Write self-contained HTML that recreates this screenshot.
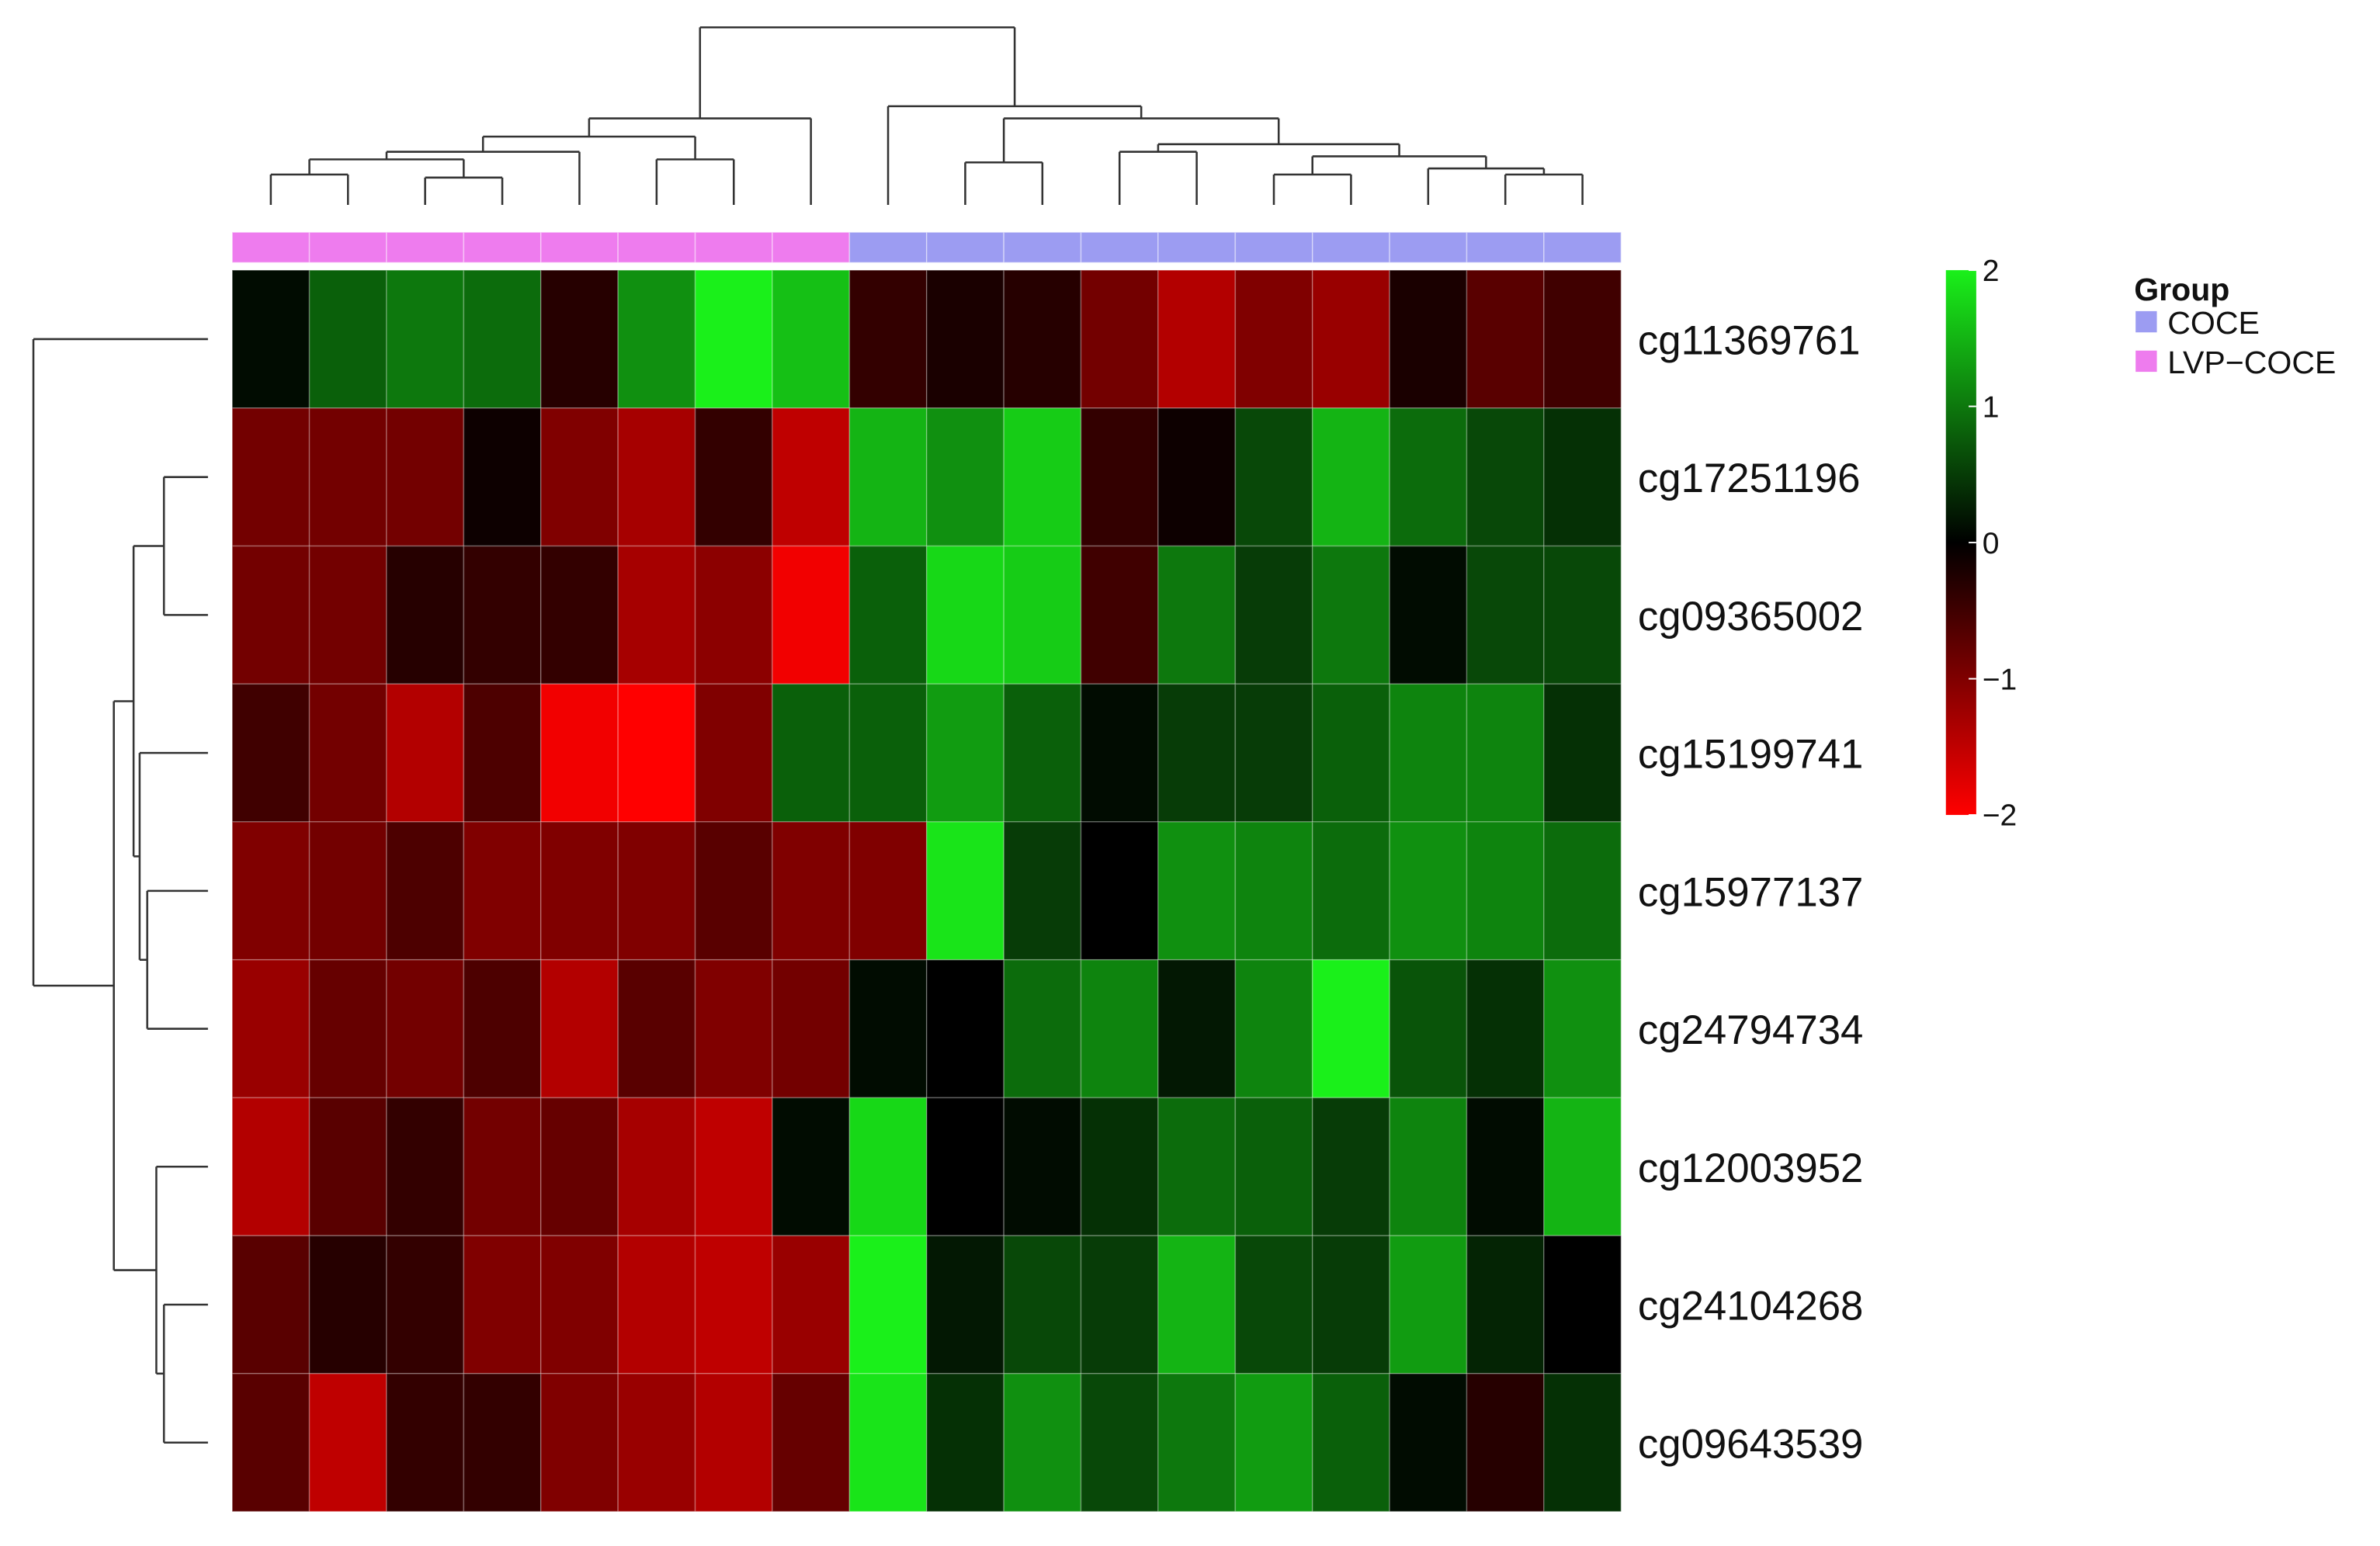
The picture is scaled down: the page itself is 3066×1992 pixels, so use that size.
<!DOCTYPE html>
<html><head><meta charset="utf-8"><style>
html,body{margin:0;padding:0;background:#fff;}
svg{display:block;font-family:"Liberation Sans",sans-serif;}
</style></head><body>
<svg id="chart" width="3066" height="1992" viewBox="0 0 1568 1018.7" xmlns="http://www.w3.org/2000/svg">
<g id="dendro" fill="none" stroke="#333" stroke-width="1.3"></g>
<g id="annot"></g>
<g id="cells"></g>
<g id="rowlabels" font-size="27" fill="#111"></g>
<g id="cbar"></g>
<g font-size="21" fill="#111">
<text x="1406" y="198" font-weight="bold">Group</text>
<rect x="1407" y="205" width="14" height="14" fill="#9c9cf2"/>
<text x="1428" y="220">COCE</text>
<rect x="1407" y="231" width="14" height="14" fill="#ee7cee"/>
<text x="1428" y="246">LVP−COCE</text>
</g>
</svg>
<script>
const rowNames=["cg11369761","cg17251196","cg09365002","cg15199741","cg15977137","cg24794734","cg12003952","cg24104268","cg09643539"];
const groups=["LVP","LVP","LVP","LVP","LVP","LVP","LVP","LVP","COCE","COCE","COCE","COCE","COCE","COCE","COCE","COCE","COCE","COCE"];
const r0=[0.1,0.8,1.0,0.9,-0.3,1.2,2.0,1.6,-0.4,-0.2,-0.3,-0.9,-1.4,-1.0,-1.2,-0.2,-0.7,-0.5];
const r1=[-0.9,-0.9,-0.9,-0.1,-1.0,-1.3,-0.4,-1.5,1.5,1.2,1.7,-0.4,-0.1,0.6,1.5,0.9,0.6,0.4];
const r2=[-0.9,-0.9,-0.3,-0.4,-0.4,-1.3,-1.1,-1.9,0.8,1.8,1.7,-0.5,1.0,0.5,1.0,0.1,0.6,0.6];
const r3=[-0.5,-0.9,-1.4,-0.6,-1.9,-2.0,-1.0,0.8,0.8,1.3,0.8,0.1,0.5,0.5,0.8,1.1,1.1,0.4];
const r4=[-1.0,-0.9,-0.6,-1.0,-1.0,-1.0,-0.7,-1.0,-1.0,1.9,0.5,0.0,1.2,1.1,0.9,1.2,1.1,0.9];
const r5=[-1.2,-0.8,-0.9,-0.6,-1.4,-0.7,-1.0,-0.9,0.1,0.0,0.9,1.1,0.2,1.1,2.0,0.7,0.4,1.2];
const r6=[-1.4,-0.7,-0.4,-0.9,-0.8,-1.3,-1.5,0.1,1.8,0.0,0.1,0.4,0.9,0.8,0.5,1.1,0.1,1.5];
const r7=[-0.7,-0.3,-0.4,-1.0,-1.0,-1.4,-1.5,-1.2,2.0,0.2,0.6,0.5,1.5,0.6,0.5,1.3,0.3,0.0];
const r8=[-0.7,-1.5,-0.4,-0.4,-1.0,-1.2,-1.4,-0.8,1.9,0.4,1.2,0.6,1.0,1.3,0.8,0.1,-0.3,0.4];
const values=[r0,r1,r2,r3,r4,r5,r6,r7,r8];
const cbTicks=["2","1","0","−1","−2"];
const cbTickVals=[2,1,0,-1,-2];

const NS="http://www.w3.org/2000/svg";
const X0=153,X1=1068,Y0=178,Y1=996;
const nC=groups.length,nR=rowNames.length;
const cw=(X1-X0)/nC,rh=(Y1-Y0)/nR;
const xc=i=>X0+cw*(i+0.5), yc=r=>Y0+rh*(r+0.5);
function color(v){v=Math.max(-2,Math.min(2,v));
 if(v>=0){const t=v/2;return `rgb(${Math.round(26*t)},${Math.round(240*t)},${Math.round(26*t)})`;}
 const t=-v/2;return `rgb(${Math.round(255*t)},0,0)`;}
function el(tag,attrs,parent){const e=document.createElementNS(NS,tag);for(const k in attrs)e.setAttribute(k,attrs[k]);parent.appendChild(e);return e;}

const cells=document.getElementById('cells');
values.forEach((row,r)=>row.forEach((v,c)=>{
 const e=el('rect',{x:X0+c*cw,y:Y0+r*rh,width:cw,height:rh,fill:color(v),stroke:'rgba(255,255,255,0.25)','stroke-width':0.8},cells);
 
 
}));
const annot=document.getElementById('annot');
groups.forEach((g,c)=>{
 const e=el('rect',{x:X0+c*cw,y:153,width:cw,height:20,fill:g==="LVP"?'#ee7cee':'#9c9cf2',stroke:'rgba(255,255,255,0.4)','stroke-width':0.8},annot);
 
 
});
const rl=document.getElementById('rowlabels');
rowNames.forEach((n,r)=>{
 const t=el('text',{x:1079,y:yc(r)+10},rl);t.textContent=n;
 
 
});
const cb=document.getElementById('cbar');
const defs=el('defs',{},cb);
const lg=el('linearGradient',{id:'cg',x1:0,y1:0,x2:0,y2:1},defs);
[[0,2],[0.5,0],[1,-2]].forEach(([o,v])=>el('stop',{offset:o,'stop-color':color(v)},lg));
const CB0=178,CB1=537;
const cbr=el('rect',{x:1282,y:CB0,width:20,height:CB1-CB0,fill:'url(#cg)'},cb);


cbTickVals.forEach((v,i)=>{
 const y=CB0+(2-v)/4*(CB1-CB0);
 el('line',{x1:1297,x2:1302,y1:y,y2:y,stroke:'#fff','stroke-width':1},cb);
 const t=el('text',{x:1306,y:y+7,'font-size':20,fill:'#111'},cb);t.textContent=cbTicks[i];
 
 
});
const dg=document.getElementById('dendro');
function seg(x1,y1,x2,y2){el('line',{x1,y1,x2,y2},dg);}
function joinTop(a,b,h){seg(a.x,a.y,a.x,h);seg(b.x,b.y,b.x,h);seg(a.x,h,b.x,h);return {x:(a.x+b.x)/2,y:h};}
const L=i=>({x:xc(i),y:135});
let A=joinTop(joinTop(L(0),L(1),115),joinTop(L(2),L(3),117),105);
let B=joinTop(A,L(4),100);
let C=joinTop(B,joinTop(L(5),L(6),105),90);
let left=joinTop(C,L(7),78);
let E=joinTop(L(15),joinTop(L(16),L(17),115),111);
let D=joinTop(joinTop(L(13),L(14),115),E,103);
let Cr=joinTop(joinTop(L(11),L(12),100),D,95);
let Br=joinTop(joinTop(L(9),L(10),107),Cr,78);
let right=joinTop(L(8),Br,70);
joinTop(left,right,18);
function joinL(a,b,h){seg(a.x,a.y,h,a.y);seg(b.x,b.y,h,b.y);seg(h,a.y,h,b.y);return {x:h,y:(a.y+b.y)/2};}
const R=r=>({x:137,y:yc(r)});
let n12=joinL(R(1),R(2),108);
let n45=joinL(R(4),R(5),97);
let n345=joinL(R(3),n45,92);
let n1_5=joinL(n12,n345,88);
let n78=joinL(R(7),R(8),108);
let n678=joinL(R(6),n78,103);
let n1_8=joinL(n1_5,n678,75);
joinL(R(0),n1_8,22);
</script>
</body></html>
